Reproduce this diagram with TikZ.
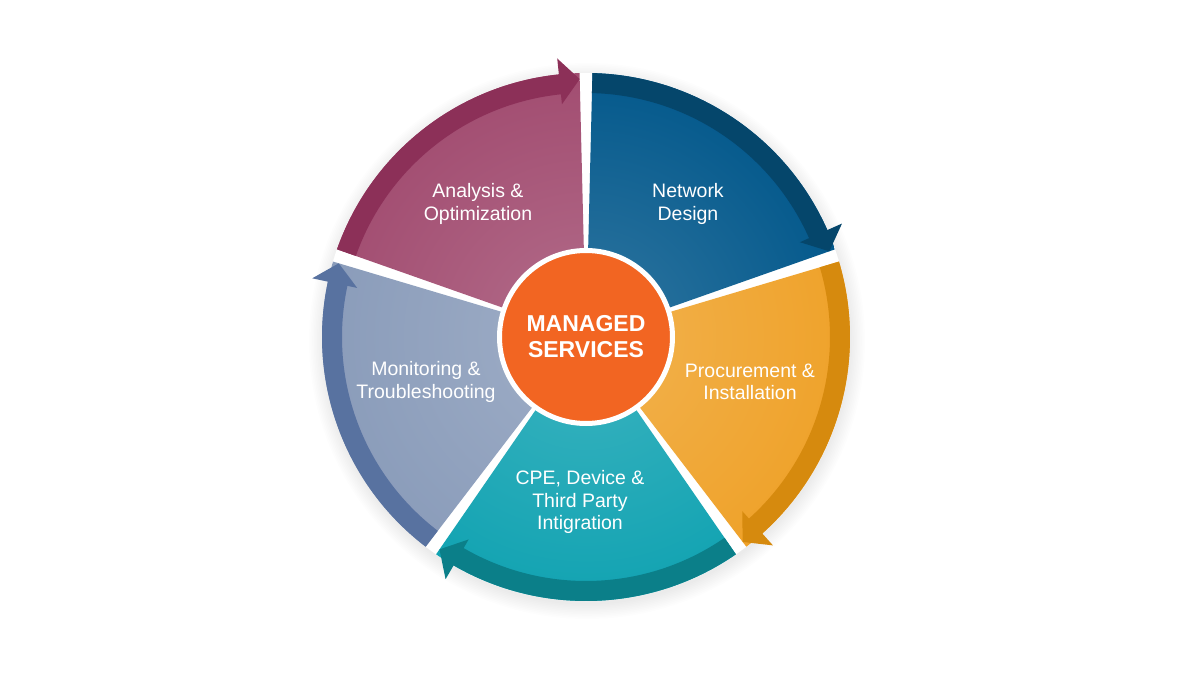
\documentclass[tikz,border=0pt]{standalone}
\usepackage{fontspec}
\setmainfont{Liberation Sans}
\definecolor{pinkbody}{HTML}{A24D71}
\definecolor{pinkrim}{HTML}{8C3058}
\definecolor{bluebody}{HTML}{04598C}
\definecolor{bluerim}{HTML}{05466B}
\definecolor{goldbody}{HTML}{EFA22A}
\definecolor{goldrim}{HTML}{D68A0E}
\definecolor{tealbody}{HTML}{12A3B2}
\definecolor{tealrim}{HTML}{0B7F89}
\definecolor{slatebody}{HTML}{8A9CBA}
\definecolor{slaterim}{HTML}{5872A0}
\definecolor{coreorange}{HTML}{F26522}
\tikzset{
  steplabel/.style={text=white, align=center, font=\fontsize{19.5}{22.5}\selectfont},
  corelabel/.style={circle, fill=coreorange, draw=white, line width=5pt, minimum size=173pt,
    text=white, align=center, font=\bfseries\fontsize{23}{26}\selectfont}
}
\begin{document}
\begin{tikzpicture}[x=1pt,y=1pt]
\useasboundingbox (-586,-338) rectangle (614,337);
% soft shadow
\foreach \i in {1,...,10}
  \fill[black, opacity=0.008] (1,-4) circle (262+\i*1.6);
\fill[white] (0,0) circle (264);
% sectors with their arrow rims
\foreach \ang/\body/\rim in {162/pinkbody/pinkrim, 90/bluebody/bluerim, 18/goldbody/goldrim,
    -54/tealbody/tealrim, -126/slatebody/slaterim} {
  \pgfmathsetmacro{\sa}{\ang-1.4}
  \pgfmathsetmacro{\ta}{\ang-72+1.4}
  \pgfmathsetmacro{\ba}{\ta+4.5}
  \begin{scope}
    \clip (0,0) -- (\sa:264) arc[start angle=\sa, end angle=\ta, radius=264] -- cycle;
    \shade[inner color=\body!82!white, outer color=\body] (0,0) circle (264);
  \end{scope}
  \fill[\rim] (\sa:264) arc[start angle=\sa, end angle=\ba, radius=264] -- (\ba:280)
    -- (\ta:258) -- (\ba:234) -- (\ba:244) arc[start angle=\ba, end angle=\sa, radius=244] -- cycle;
}
\node[corelabel] (core) at (0,0) {MANAGED\\SERVICES};
\node[steplabel] (analysis) at (-108,133) {Analysis \&\\Optimization};
\node[steplabel] (design) at (102,133) {Network\\Design};
\node[steplabel] (procure) at (164,-45) {Procurement \&\\Installation};
\node[steplabel] (cpe) at (-6,-165) {CPE, Device \&\\Third Party\\Intigration};
\node[steplabel] (monitor) at (-160,-45) {Monitoring \&\\Troubleshooting};
\end{tikzpicture}
\end{document}
